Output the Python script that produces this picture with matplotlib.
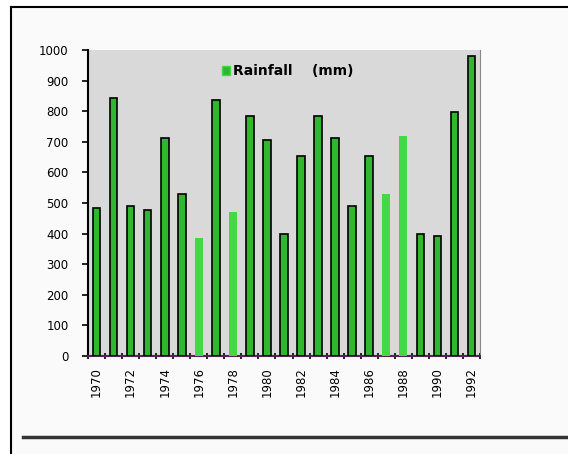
import matplotlib
matplotlib.use("Agg")
import matplotlib.pyplot as plt
import numpy as np
from matplotlib.lines import Line2D
from matplotlib.patches import Rectangle

years = list(range(1970, 1993))
rainfall = [485, 844, 490, 477, 713, 529, 386, 837, 471, 784, 706, 399, 654,
            784, 713, 490, 654, 529, 719, 399, 392, 798, 981]
yticks = [0, 100, 200, 300, 400, 500, 600, 700, 800, 900, 1000]
xlabels = [str(y) for y in years[::2]]
legend_label = "Rainfall    (mm)"

# style: bars rendered lighter / without outline in the reference
light = {1976, 1978, 1987, 1988}

fig = plt.figure(figsize=(5.68, 4.54), dpi=100)
fig.patch.set_facecolor("white")

# frame lines
fig.add_artist(Rectangle((11/568, 0), 1, 1 - 7/454, transform=fig.transFigure,
                         facecolor="#fafafa", edgecolor="none", zorder=-5))
fig.add_artist(Line2D([11/568, 1], [1 - 7/454, 1 - 7/454], transform=fig.transFigure,
                      color="black", lw=1.5))
fig.add_artist(Line2D([11/568, 11/568], [0, 1 - 7/454], transform=fig.transFigure,
                      color="black", lw=1.5))
fig.add_artist(Line2D([23/568, 1], [1 - 437/454, 1 - 437/454], transform=fig.transFigure,
                      color="#333333", lw=2.5))

ax = fig.add_axes([88/568, 1 - 356/454, 392/568, 306/454])
ax.set_facecolor("#d9d9d9")
x = np.arange(len(years))
for xi, yr, v in zip(x, years, rainfall):
    if yr in light:
        ax.bar(xi, v, width=0.45, color="#44d844", edgecolor="none", zorder=3)
    else:
        ax.bar(xi, v, width=0.45, color="#2fb82f", edgecolor="black", linewidth=1.2, zorder=3)

ax.set_xlim(-0.5, len(years) - 0.5)
ax.set_ylim(0, 1000)
ax.set_yticks(yticks)
ax.set_yticklabels([str(t) for t in yticks], fontsize=8.5)
ax.set_xticks(x[::2])
ax.set_xticklabels(xlabels, rotation=90, fontsize=8.5)
ax.set_xticks(np.arange(-0.5, len(years), 1), minor=True)
ax.tick_params(axis="x", which="major", length=0, pad=8)
ax.tick_params(axis="x", which="minor", length=5, direction="inout", width=1.2)
ax.tick_params(axis="y", length=4, direction="out", width=1.2, pad=10)

ax.spines["top"].set_visible(False)
ax.spines["right"].set_color("#888888")
ax.spines["left"].set_linewidth(1.5)
ax.spines["bottom"].set_linewidth(1.5)
ax.spines["bottom"].set_color("#552255")

handle = Rectangle((0, 0), 1, 1, facecolor="#2fb82f", edgecolor="#44d844")
ax.legend([handle], [legend_label], loc="upper center", bbox_to_anchor=(0.51, 0.995),
          frameon=False, prop={"weight": "bold", "size": 10},
          handlelength=0.6, handleheight=0.6, handletextpad=0.2)

fig.savefig("out.png", dpi=100)
